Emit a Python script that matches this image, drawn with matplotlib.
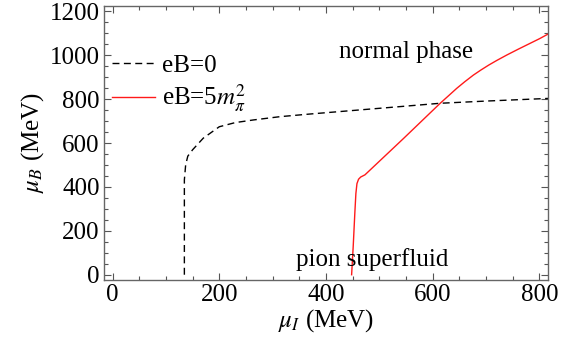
import matplotlib
matplotlib.use("Agg")
import matplotlib.pyplot as plt
from matplotlib.ticker import MultipleLocator

# --- data (MeV) ---
mu_I_eb0 = [134.6, 134.6, 137, 141, 150, 170, 200, 230, 264, 314, 370, 450, 530, 614, 700, 816]
mu_B_eb0 = [0, 432, 500, 540, 569, 622, 674, 693, 705, 720, 732, 748, 764, 781, 791, 803]

mu_I_eb5 = [448, 451, 454, 456, 458, 461, 465, 473, 545, 614, 630, 645, 660, 676, 690,
            705, 720, 739, 760, 780, 800, 816]
mu_B_eb5 = [0, 130, 280, 370, 415, 435, 445, 455, 620, 781, 816, 849, 879, 909, 932,
            955, 976, 1001, 1027, 1051, 1075, 1096]

x_ticks = [0, 200, 400, 600, 800]
y_ticks = [0, 200, 400, 600, 800, 1000, 1200]

plt.rcParams['font.family'] = ['Liberation Serif', 'DejaVu Serif']
plt.rcParams['mathtext.fontset'] = 'stix'

fs = 18
fig = plt.figure(figsize=(5.74, 3.51), dpi=100)
ax = fig.add_axes([104 / 574, 1 - 280 / 351, 444 / 574, 274 / 351])

ax.plot(mu_I_eb0, mu_B_eb0, color='black', lw=1.0, ls=(0, (5, 3.2)), label='eB=0')
ax.plot(mu_I_eb5, mu_B_eb5, color='#ff1a1a', lw=1.0, label='eB=5$m_\\pi^2$')

ax.set_xlim(-16, 816)
ax.set_ylim(-24, 1224)
ax.set_xticks(x_ticks)
ax.set_yticks(y_ticks)
ax.xaxis.set_minor_locator(MultipleLocator(50))
ax.yaxis.set_minor_locator(MultipleLocator(50))
ax.tick_params(which='both', direction='in', top=True, right=True, color='#555555',
               labelsize=fs, width=0.8, pad=3)
ax.tick_params(which='major', length=5)
ax.tick_params(which='minor', length=3)
for s in ax.spines.values():
    s.set_color('#666666')
    s.set_linewidth(1.0)

ax.set_xlabel('$\\mu_I$ (MeV)', fontsize=fs, labelpad=1)
ax.set_ylabel('$\\mu_B$ (MeV)', fontsize=fs, labelpad=3)

ax.text(550, 1013, 'normal phase', fontsize=fs, ha='center', va='center')
ax.text(486, 70, 'pion superfluid', fontsize=fs, ha='center', va='center')

ax.legend(loc='upper left', bbox_to_anchor=(0.018, 0.824), frameon=False, fontsize=fs,
          handlelength=1.72, handletextpad=0.3, labelspacing=0.25, borderaxespad=0,
          borderpad=0)

fig.savefig('out.png', dpi=100)
